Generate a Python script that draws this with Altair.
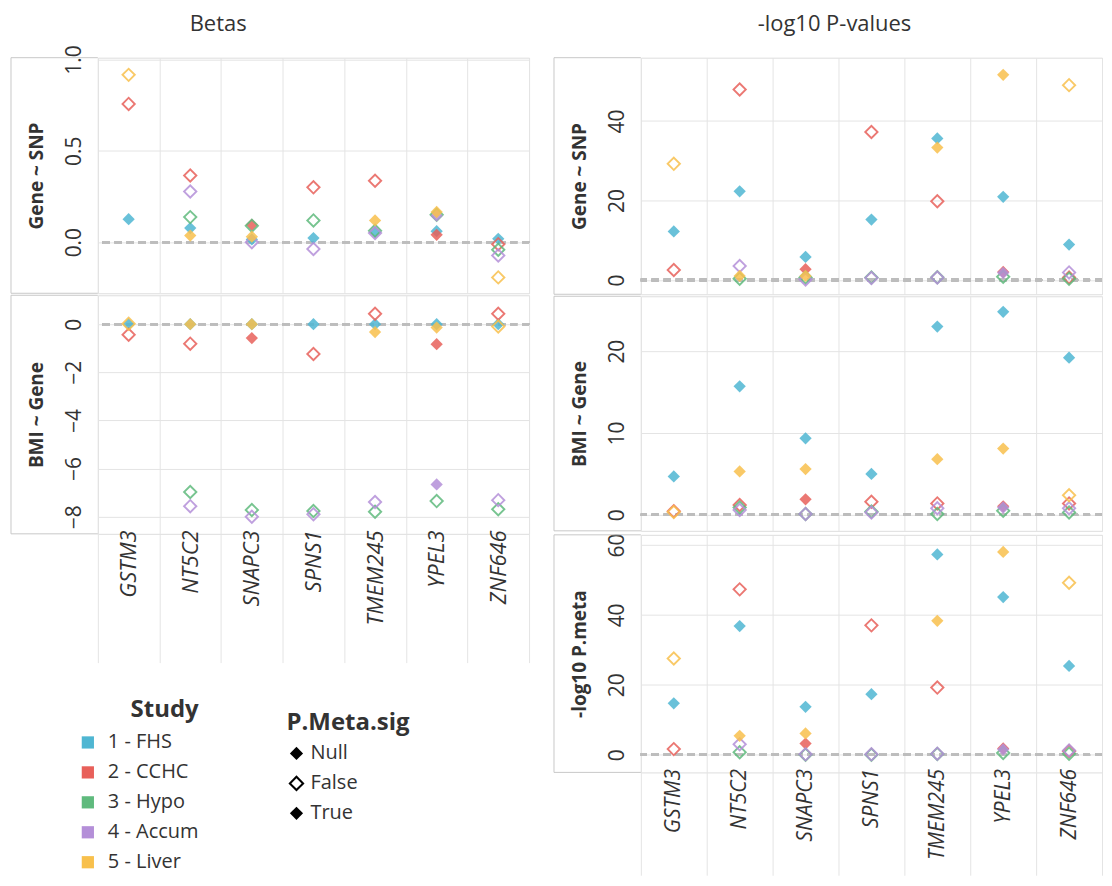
import altair as alt
import pandas as pd

FONT = "Open Sans"
TXT = "#333333"
GRID = "#e4e4e4"
BORDER = "#c8c8c8"

genes = ["GSTM3", "NT5C2", "SNAPC3", "SPNS1", "TMEM245", "YPEL3", "ZNF646"]
studies = ["1 - FHS", "2 - CCHC", "3 - Hypo", "4 - Accum", "5 - Liver"]
study_colors = ["#4fb6d2", "#e8605a", "#5fba7d", "#b48fd8", "#f8c04c"]
sig_levels = ["Null", "False", "True"]

# P.Meta.sig per study (one entry per gene, None = study not present)
sig_fhs = ["Null", "Null", "Null", "Null", "Null", "Null", "Null"]
sig_cchc = ["False", "False", "True", "False", "False", "True", "False"]
sig_hypo = [None, "False", "False", "False", "False", "False", "False"]
sig_accum = [None, "False", "False", "False", "False", "True", "False"]
sig_liver = ["False", "True", "True", None, "True", "True", "False"]

# Betas: Gene ~ SNP
beta_gs_fhs = [0.126, 0.077, 0.015, 0.022, 0.055, 0.06, 0.018]
beta_gs_cchc = [0.757, 0.365, 0.095, 0.30, 0.336, 0.04, -0.011]
beta_gs_hypo = [None, 0.137, 0.09, 0.119, 0.062, 0.15, -0.042]
beta_gs_accum = [None, 0.277, 0.0, -0.038, 0.05, 0.145, -0.073]
beta_gs_liver = [0.916, 0.036, 0.03, None, 0.119, 0.165, -0.193]

# Betas: BMI ~ Gene
beta_bg_fhs = [0.0, 0.0, 0.0, 0.0, 0.0, 0.0, 0.0]
beta_bg_cchc = [-0.44, -0.81, -0.58, -1.24, 0.43, -0.83, 0.43]
beta_bg_hypo = [None, -6.97, -7.72, -7.76, -7.79, -7.35, -7.69]
beta_bg_accum = [None, -7.56, -8.0, -7.9, -7.39, -6.66, -7.31]
beta_bg_liver = [0.02, 0.0, 0.0, None, -0.33, -0.14, -0.1]

# -log10 P: Gene ~ SNP
p_gs_fhs = [12.2, 22.3, 5.8, 15.2, 35.6, 20.9, 8.9]
p_gs_cchc = [2.5, 47.9, 2.7, 37.2, 19.8, 2.0, 0.6]
p_gs_hypo = [None, 0.3, 0.6, 0.6, 0.7, 0.8, 0.3]
p_gs_accum = [None, 3.5, 0.1, 0.5, 0.6, 1.8, 1.9]
p_gs_liver = [29.2, 1.0, 1.0, None, 33.3, 51.6, 49.0]

# -log10 P: BMI ~ Gene
p_bg_fhs = [4.7, 15.7, 9.35, 5.0, 23.0, 24.8, 19.2]
p_bg_cchc = [0.45, 1.2, 1.9, 1.6, 1.4, 1.05, 1.4]
p_bg_hypo = [None, 0.9, 0.1, 0.4, 0.1, 0.5, 0.3]
p_bg_accum = [None, 0.6, 0.1, 0.3, 0.8, 0.9, 0.8]
p_bg_liver = [0.35, 5.3, 5.6, None, 6.8, 8.1, 2.4]

# -log10 P.meta
p_meta_fhs = [14.7, 36.8, 13.7, 17.3, 57.3, 45.1, 25.4]
p_meta_cchc = [1.6, 47.3, 3.2, 37.0, 19.2, 1.8, 1.0]
p_meta_hypo = [None, 0.7, 0.0, 0.0, 0.2, 0.5, 0.3]
p_meta_accum = [None, 3.0, 0.1, 0.1, 0.3, 1.5, 1.2]
p_meta_liver = [27.5, 5.4, 6.1, None, 38.3, 58.0, 49.2]

sigs = [sig_fhs, sig_cchc, sig_hypo, sig_accum, sig_liver]
measures = {
    "beta_gs": [beta_gs_fhs, beta_gs_cchc, beta_gs_hypo, beta_gs_accum, beta_gs_liver],
    "beta_bg": [beta_bg_fhs, beta_bg_cchc, beta_bg_hypo, beta_bg_accum, beta_bg_liver],
    "p_gs": [p_gs_fhs, p_gs_cchc, p_gs_hypo, p_gs_accum, p_gs_liver],
    "p_bg": [p_bg_fhs, p_bg_cchc, p_bg_hypo, p_bg_accum, p_bg_liver],
    "p_meta": [p_meta_fhs, p_meta_cchc, p_meta_hypo, p_meta_accum, p_meta_liver],
}

rows = []
for key, series in measures.items():
    for s, vals, sg in zip(studies, series, sigs):
        for g, v, flag in zip(genes, vals, sg):
            if v is not None:
                rows.append({"measure": key, "gene": g, "study": s, "sig": flag, "value": v})
df = pd.DataFrame(rows)
one = pd.DataFrame({"a": [0]})

FILLED = "M0,-0.82L0.82,0L0,0.82L-0.82,0Z"
HOLLOW = "M0,-1L1,0L0,1L-1,0Z M0,-0.64L-0.64,0L0,0.64L0.64,0Z"

color_enc = alt.Color(
    "study:N",
    scale=alt.Scale(domain=studies, range=study_colors),
    legend=alt.Legend(
        title="Study", orient="none", legendX=-20, legendY=641,
        symbolType="square", symbolSize=150, symbolOpacity=1, symbolStrokeWidth=0,
        labelFontSize=20, labelFont=FONT, labelColor=TXT, labelOffset=10,
        titleFontSize=24, titleFont=FONT, titleFontWeight="bold", titleColor=TXT,
        titleAnchor="end", titlePadding=11, rowPadding=10,
    ),
)
shape_enc = alt.Shape(
    "sig:N",
    scale=alt.Scale(domain=sig_levels, range=[FILLED, HOLLOW, FILLED]),
    legend=alt.Legend(
        title="P.Meta.sig", orient="none", legendX=189, legendY=655,
        symbolSize=260, symbolFillColor="black", symbolStrokeColor="black",
        symbolStrokeWidth=0, symbolOpacity=1,
        labelFontSize=20, labelFont=FONT, labelColor=TXT, labelOffset=4,
        titleFontSize=24, titleFont=FONT, titleFontWeight="bold", titleColor=TXT,
        titlePadding=8, rowPadding=10,
    ),
)

HDR = 87


def row_chart(key, title, domain, ticks, fmt, w, h, bottom=False, tick_len=0, xfs=22):
    if bottom:
        xaxis = alt.Axis(
            title=None, tickBand="extent", grid=True, gridColor=GRID, domain=False,
            ticks=True, tickSize=tick_len, tickColor=GRID, labels=True,
            labelAngle=-90, labelFontStyle="italic", labelFontSize=xfs, labelFont=FONT,
            labelColor=TXT, labelPadding=-(tick_len + 4),
        )
    else:
        xaxis = alt.Axis(
            title=None, tickBand="extent", grid=True, gridColor=GRID, domain=False,
            ticks=False, labels=False,
        )
    x = alt.X("gene:N", scale=alt.Scale(type="band", domain=genes, paddingInner=0, paddingOuter=0), axis=xaxis)
    y = alt.Y(
        "value:Q",
        scale=alt.Scale(domain=domain, nice=False, zero=False),
        axis=alt.Axis(
            title=title, values=ticks, format=fmt, grid=True, gridColor=GRID,
            ticks=False, domain=False, labelAngle=-90, labelFontSize=21, labelFont=FONT,
            labelColor=TXT, labelPadding=13, minExtent=31, maxExtent=31,
            titlePadding=20, titleFontSize=19, titleFont=FONT, titleFontWeight="bold",
            titleColor=TXT,
        ),
    )
    base = alt.Chart(df).transform_filter(alt.datum.measure == key)
    zero = base.mark_rule(color="#bdbdbd", strokeDash=[7, 5], strokeWidth=2.5).encode(y=alt.datum(0))
    pts = base.mark_point(filled=True, size=225, opacity=0.85, strokeWidth=0).encode(
        x=x, y=y, color=color_enc, shape=shape_enc,
        tooltip=["gene", "study", "sig", "value"],
    )
    b_top = alt.Chart(one).mark_rule(color=BORDER).encode(x=alt.value(-HDR), x2=alt.value(0), y=alt.value(0))
    b_bot = alt.Chart(one).mark_rule(color=BORDER).encode(x=alt.value(-HDR), x2=alt.value(0), y=alt.value(h))
    b_left = alt.Chart(one).mark_rule(color=BORDER).encode(x=alt.value(-HDR), y=alt.value(0), y2=alt.value(h))
    return alt.layer(zero, pts, b_top, b_bot, b_left).properties(width=w, height=h)


LW, RW = 432, 462

left = alt.vconcat(
    row_chart("beta_gs", "Gene ~ SNP", [-0.28, 1.01], [0, 0.5, 1.0], ".1f", LW, 236),
    row_chart("beta_bg", "BMI ~ Gene", [-8.71, 1.2], [-8, -6, -4, -2, 0], "d", LW, 239,
              bottom=True, tick_len=129),
    spacing=0,
).properties(
    title=alt.TitleParams("Betas", anchor="start", dx=180, fontSize=22, fontWeight="normal",
                          font=FONT, color=TXT, offset=8, frame="bounds")
).resolve_scale(y="independent")

right = alt.vconcat(
    row_chart("p_gs", "Gene ~ SNP", [-3.6, 55.9], [0, 20, 40], "d", RW, 237),
    row_chart("p_bg", "BMI ~ Gene", [-1.95, 26.7], [0, 10, 20], "d", RW, 235),
    row_chart("p_meta", "-log10 P.meta", [-5.06, 62.9], [0, 20, 40, 60], "d", RW, 238,
              bottom=True, tick_len=103, xfs=21),
    spacing=0,
).properties(
    title=alt.TitleParams("-log10 P-values", anchor="start", dx=205, dy=-13, fontSize=22,
                          fontWeight="normal", font=FONT, color=TXT, offset=8, frame="bounds")
).resolve_scale(y="independent")

chart = alt.hconcat(left, right, spacing=22).resolve_scale(
    x="independent", y="independent", color="shared", shape="shared"
).properties(
    padding={"left": 2, "top": 4, "right": 0, "bottom": 0}
).configure_view(stroke=BORDER, strokeWidth=1).configure(font=FONT)

chart.save("out.html", embed_options={"renderer": "svg", "actions": False})
